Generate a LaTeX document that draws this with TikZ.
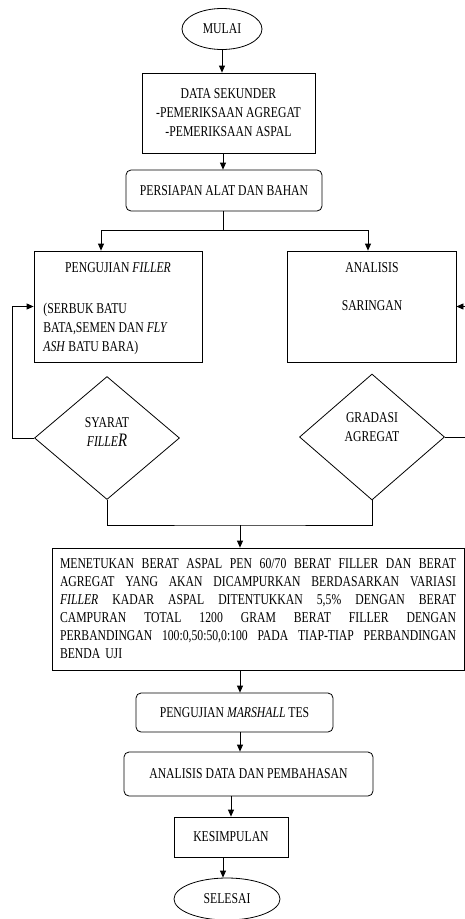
\documentclass[tikz,border=0pt]{standalone}
\usepackage{fontspec}
\setmainfont[FakeStretch=0.78]{Liberation Serif}
\usetikzlibrary{shapes.geometric,arrows.meta}

\newcommand{\jline}[1]{\makebox[396pt][s]{\spaceskip=0.25em plus 1fil\relax #1}}

\begin{document}
\begin{tikzpicture}[x=1pt, y=1pt, thick,
  every node/.style={font=\fontsize{15}{19}\selectfont},
  arr/.style={-{Triangle[length=7pt,width=6pt]}},
  terminal/.style={draw, ellipse, inner sep=0pt},
  box/.style={draw, rectangle, align=center, inner sep=0pt},
  roundbox/.style={draw, rectangle, rounded corners=5pt, inner sep=0pt},
  decision/.style={draw, diamond, inner sep=0pt},
  txt/.style={align=center, inner sep=0pt}]
  \useasboundingbox (0,0) rectangle (465,-919);

  % top part
  \node[terminal, minimum width=80, minimum height=41] (mulai) at (222,-29) {MULAI};
  \node[box, minimum width=173, minimum height=80] (data) at (228.5,-113)
    {DATA SEKUNDER\\-PEMERIKSAAN AGREGAT\\-PEMERIKSAAN ASPAL};
  \node[roundbox, minimum width=196, minimum height=41] (persiapan) at (224,-190.5)
    {PERSIAPAN ALAT DAN BAHAN};

  % two branches
  \node[box, minimum width=168, minimum height=111] (filler) at (118,-306.5) {};
  \node[txt] (fillertitle) at (118,-268) {PENGUJIAN \textit{FILLER}};
  \node[txt, align=left, anchor=west] (fillerdesc) at (43,-329)
    {(SERBUK BATU\\BATA,SEMEN DAN \textit{FLY}\\\textit{ASH} BATU BARA)};
  \node[box, minimum width=169, minimum height=111] (analisis) at (371.5,-306.5) {};
  \node[txt] (analisistext) at (372,-287) {ANALISIS\\[19pt]SARINGAN};

  \node[decision, minimum width=145, minimum height=123] (syarat) at (107,-438) {};
  \node[txt] (syarattext) at (107,-432)
    {SYARAT\\\textit{FILLE}{\fontsize{19}{19}\selectfont\textit{R}}};
  \node[decision, minimum width=145, minimum height=126] (gradasi) at (372,-437) {};
  \node[txt] (gradasitext) at (372,-427.5) {GRADASI\\AGREGAT};

  % lower part
  \node[box, align=left, text width=396pt, minimum width=412, minimum height=122,
    font=\fontsize{15}{18}\selectfont] (campuran) at (258,-609)
    {\jline{MENETUKAN BERAT ASPAL PEN 60/70 BERAT FILLER DAN BERAT}\\
     \jline{AGREGAT YANG AKAN DICAMPURKAN BERDASARKAN VARIASI}\\
     \jline{\textit{FILLER} KADAR ASPAL DITENTUKKAN 5,5\% DENGAN BERAT}\\
     \jline{CAMPURAN TOTAL 1200 GRAM BERAT FILLER DENGAN}\\
     \jline{PERBANDINGAN 100:0,50:50,0:100 PADA TIAP-TIAP PERBANDINGAN}\\
     BENDA UJI};
  \node[roundbox, minimum width=197, minimum height=39] (marshall) at (234.5,-712.5)
    {PENGUJIAN \textit{MARSHALL} TES};
  \node[roundbox, minimum width=249, minimum height=44] (analisisdata) at (248.5,-774)
    {ANALISIS DATA DAN PEMBAHASAN};
  \node[box, minimum width=114, minimum height=40] (kesimpulan) at (231,-837) {KESIMPULAN};
  \node[terminal, minimum width=106, minimum height=42] (selesai) at (227,-899) {SELESAI};

  % junctions
  \coordinate (split) at (223,-230);
  \coordinate (splitL) at (101,-230);
  \coordinate (splitR) at (368,-230);
  \coordinate (merge) at (240,-525);

  % connectors
  \draw[arr] (mulai.south) -- (mulai.south |- data.north);
  \draw[arr] (data.south -| split) -- (persiapan.north -| split);
  \draw (persiapan.south -| split) -- (split);
  \draw[arr] (split) -| (splitL |- filler.north);
  \draw[arr] (split) -| (splitR |- analisis.north);

  \draw[arr] (syarat.west) -- ++(-22,0) |- (filler.west);
  \draw[arr] (gradasi.east) -- ++(26,0) |- (analisis.east);

  \draw (syarat.south) |- (merge) -| (gradasi.south);
  \draw[arr] (merge) -- (merge |- campuran.north);
  \draw[arr] (campuran.south -| merge) -- (merge |- marshall.north);
  \draw[arr] (marshall.south -| merge) -- (merge |- analisisdata.north);
  \draw[arr] (analisisdata.south -| kesimpulan) -- (kesimpulan.north);
  \draw[arr] (kesimpulan.south -| split) -- (split |- selesai.north);
\end{tikzpicture}
\end{document}
